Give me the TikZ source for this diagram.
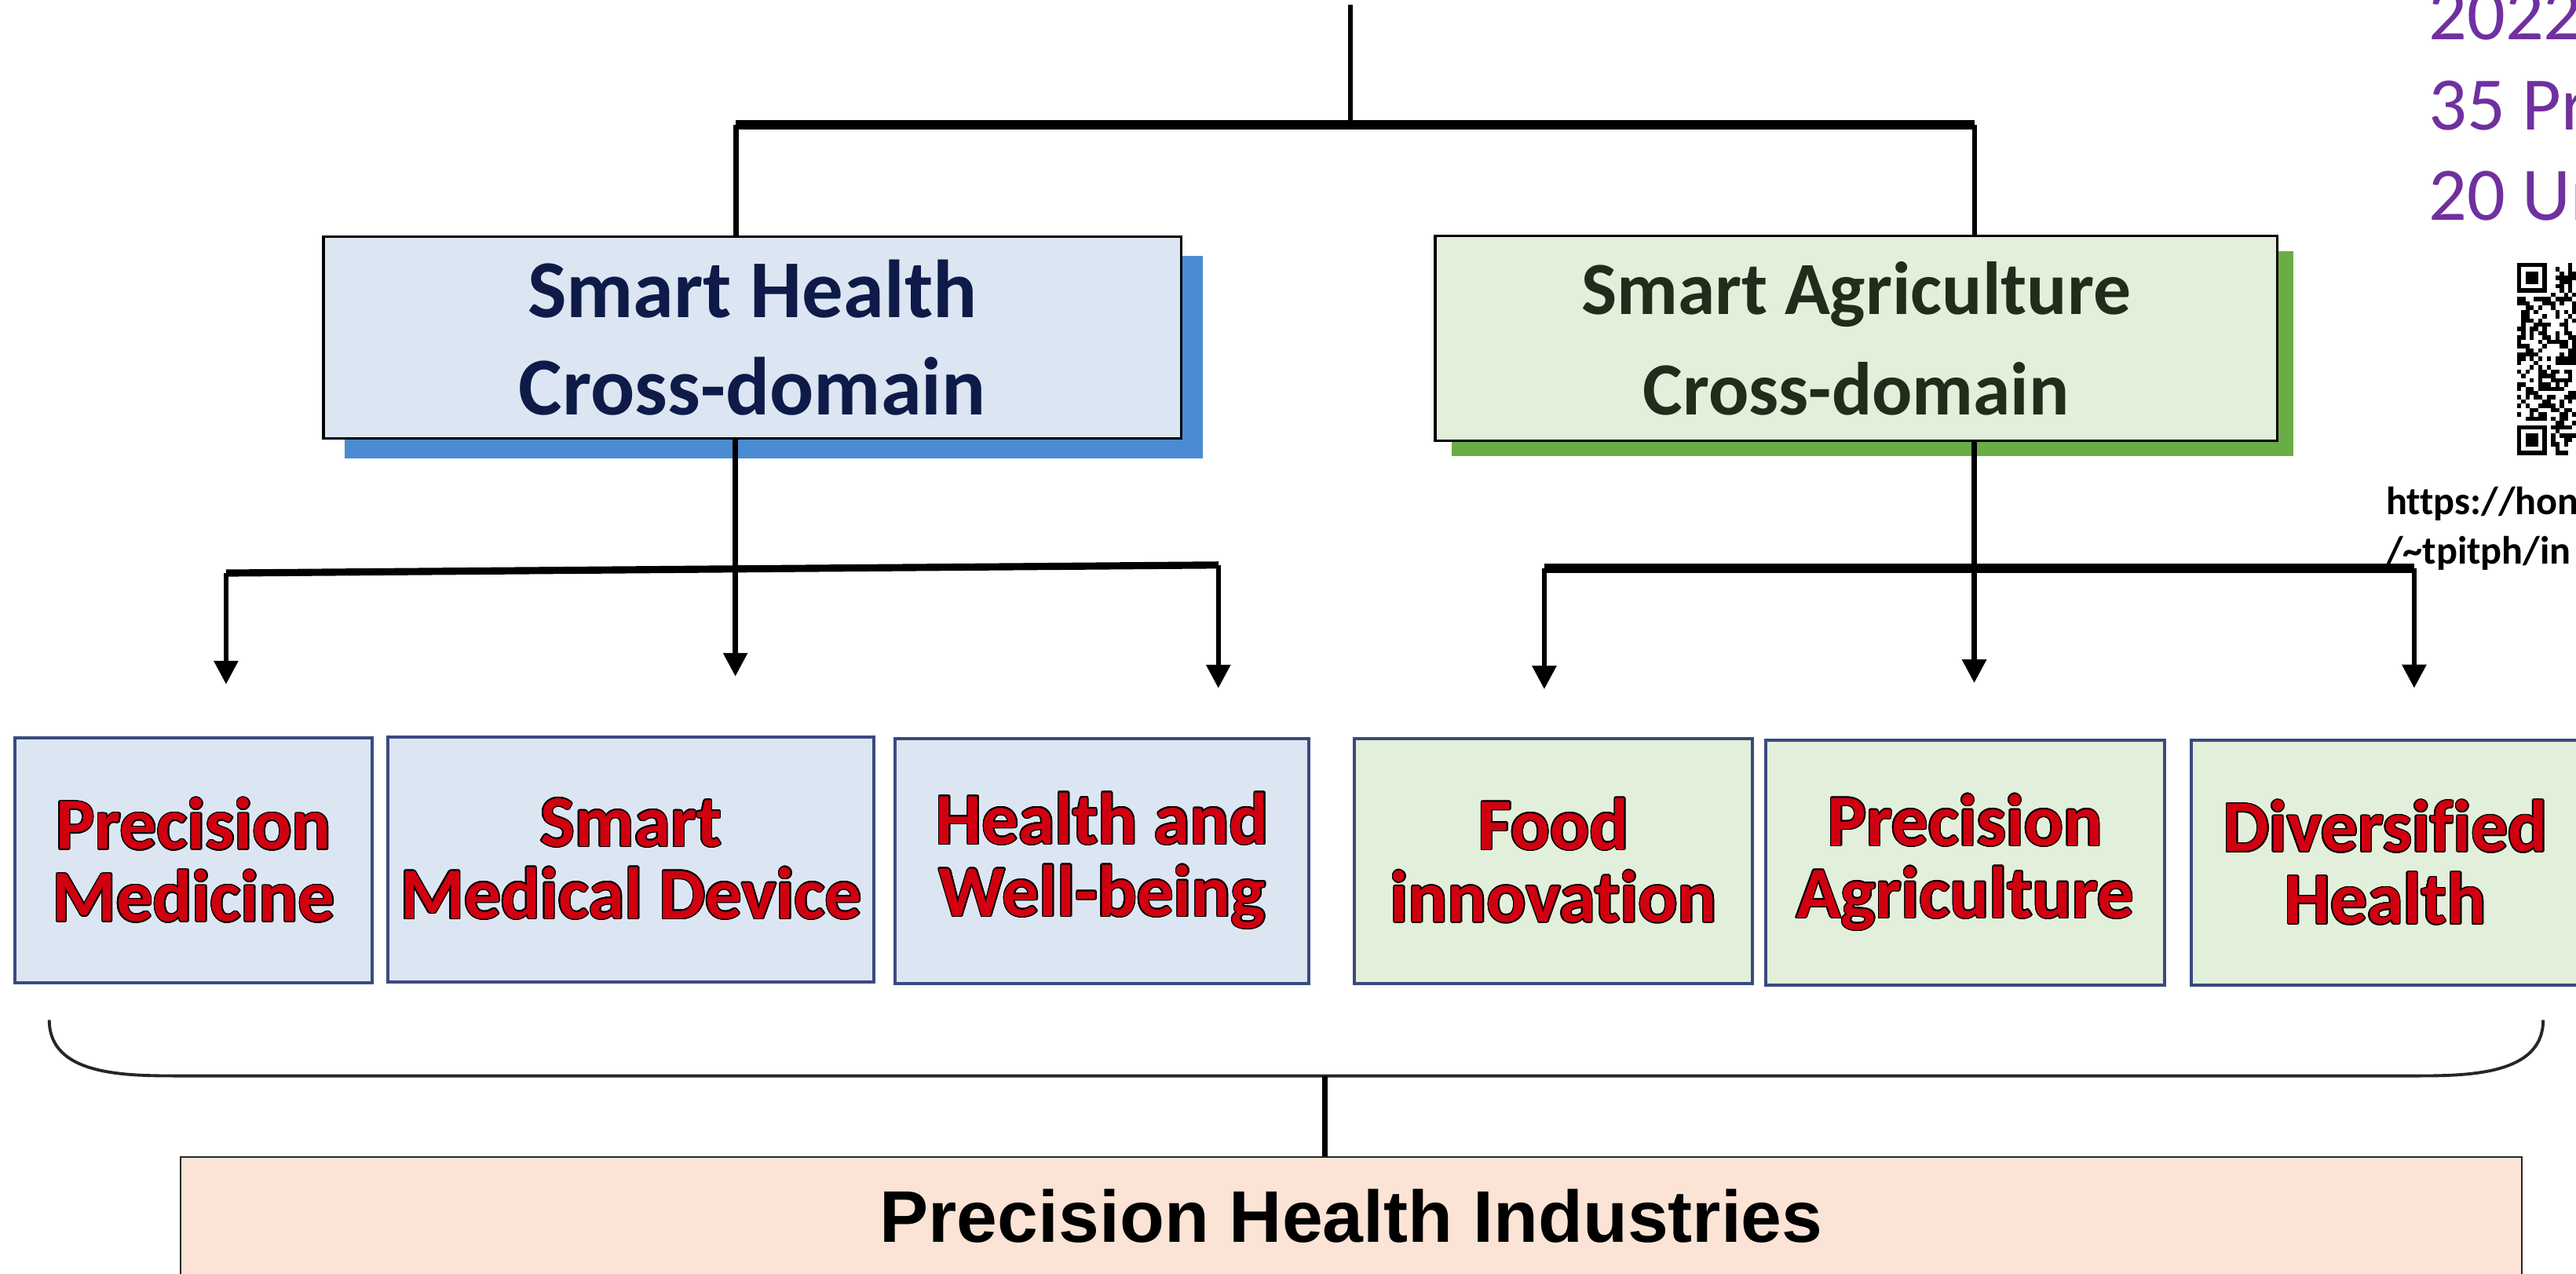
\documentclass[tikz,border=0pt]{standalone}
\usepackage{fontspec}
\setmainfont{Carlito}[Ligatures=NoCommon]
\newfontfamily\arialfont{Liberation Sans}
\usepackage{contour}
\contourlength{0.45pt}
\usetikzlibrary{arrows.meta,shadows}

\definecolor{healthfill}{HTML}{DCE6F2}
\definecolor{healthshadow}{HTML}{4A8BD2}
\definecolor{healthtext}{HTML}{0E1A48}
\definecolor{agrifill}{HTML}{E2EFDA}
\definecolor{agrishadow}{HTML}{6AAD46}
\definecolor{agritext}{HTML}{1F2D1A}
\definecolor{itemborder}{HTML}{3A4A80}
\definecolor{itemtext}{HTML}{D00010}
\definecolor{industryfill}{HTML}{FBE4D6}
\definecolor{notepurple}{HTML}{7030A0}

\newcommand{\itemlabel}[1]{\contour{black}{#1}}

\begin{document}
\begin{tikzpicture}[x=0.020925cm, y=-0.020925cm,
    domainbox/.style={draw=black, line width=1pt, align=center, inner sep=0pt,
      font={\fontsize{29.8}{35.4}\selectfont\bfseries}},
    healthdomain/.style={domainbox, fill=healthfill, text=healthtext,
      drop shadow={shadow xshift=0.27cm, shadow yshift=-0.25cm, fill=healthshadow, opacity=1}},
    agridomain/.style={domainbox, fill=agrifill, text=agritext,
      font={\fontsize{27.2}{36.3}\selectfont\bfseries},
      drop shadow={shadow xshift=0.21cm, shadow yshift=-0.19cm, fill=agrishadow, opacity=1}},
    fieldbox/.style={draw=itemborder, line width=1.1pt, align=center, inner sep=0pt,
      minimum height=3.118cm, text=itemtext, font={\fontsize{26.5}{26.2}\selectfont\bfseries}},
    healthfield/.style={fieldbox, fill=healthfill},
    agrifield/.style={fieldbox, fill=agrifill},
    industry/.style={draw=black!85, line width=0.6pt, fill=industryfill, inner sep=0pt,
      font={\arialfont\bfseries\fontsize{26.5}{30}\selectfont}},
    link/.style={line width=1.8pt},
    bar/.style={line width=3.2pt},
    branch/.style={line width=1.8pt, -{Triangle[length=8.5pt, width=8.5pt]}},
    brace/.style={line width=1.1pt, draw=black!85}
  ]
  \useasboundingbox (0,0) rectangle (1568,775.6);
  \clip (0,0) rectangle (1568,775.6);

  % cross-domain boxes
  \node[healthdomain, minimum width=10.923cm, minimum height=2.574cm] (sh) at (458,205.5)
    {Smart Health\\Cross-domain};
  \node[agridomain, minimum width=10.722cm, minimum height=2.609cm] (sa) at (1129.8,206)
    {Smart Agriculture\\Cross-domain};

  % fields
  \node[healthfield, minimum width=4.543cm] (pm) at (117.85,523.9)
    {\itemlabel{Precision}\\\itemlabel{Medicine}};
  \node[healthfield, minimum width=6.188cm] (smd) at (384.15,523.2)
    {\itemlabel{Smart}\\\itemlabel{Medical Device}};
  \node[healthfield, minimum width=5.269cm] (hw) at (670.9,524.3)
    {\itemlabel{Health and}\\\itemlabel{Well-being}};
  \node[agrifield, minimum width=5.068cm] (fi) at (945.6,524.2)
    {\itemlabel{Food}\\\itemlabel{innovation}};
  \node[agrifield, minimum width=5.072cm] (pa) at (1196.2,525.3)
    {\itemlabel{Precision}\\\itemlabel{Agriculture}};
  \node[agrifield, minimum width=4.942cm] (dh) at (1451.9,525.3)
    {\itemlabel{Diversified}\\\itemlabel{Health}};

  \node[industry, anchor=north, minimum width=29.818cm, text height=1.09cm, text depth=1.55cm]
    (phi) at (822.5,703.8) {Precision Health Industries};

  % side notes
  \node[anchor=north west, align=left, inner sep=0pt, text=notepurple,
    font={\fontsize{27.4}{32.7}\selectfont}] (note) at (1478,-6) {2022\\35 Pr\\20 Un};
  \node[anchor=north west, align=left, inner sep=0pt,
    font={\fontsize{14.3}{17.9}\selectfont\bfseries}] (url) at (1452,296)
    {https://hon\\/\textasciitilde tpitph/in};

  % qr code
  \pgfmathsetseed{42}
  \foreach \i in {0,...,14}{
    \foreach \j in {0,...,44}{
      \pgfmathrandominteger{\bit}{0}{1}
      \pgfmathtruncatemacro{\infinder}{(\i<8)&&((\j<8)||(\j>36))}
      \ifnum\infinder=0 \ifnum\bit=1
        \fill (1532+\i*2.6,160+\j*2.6) rectangle ++(2.6,2.6);
      \fi\fi
    }
  }
  \foreach \fy in {0,38}{
    \fill (1532,160+\fy*2.6) rectangle ++(18.2,18.2);
    \fill[white] (1534.6,162.6+\fy*2.6) rectangle ++(13,13);
    \fill (1537.2,165.2+\fy*2.6) rectangle ++(7.8,7.8);
  }

  % top tree
  \coordinate (top) at (822,3);
  \coordinate (jl) at (448,76);
  \coordinate (jr) at (1202,76);
  \draw[link] (top) -- (top |- jl);
  \draw[bar] (jl) -- (jr);
  \draw[link] (jl) -- (jl |- sh.north);
  \draw[link] (jr) -- (jr |- sa.north);

  % health fan-out
  \coordinate (hl) at (137.6,348.9);
  \coordinate (hm) at (447.6,346.4);
  \coordinate (hr) at (741.6,344);
  \coordinate (pm-tip) at (137.6,416.6);
  \coordinate (smd-tip) at (447.6,411.8);
  \coordinate (hw-tip) at (741.6,419);
  \draw[link] (sh.south -| hm) -- (hm);
  \draw[bar, line width=2.6pt] (hl) -- (hr);
  \draw[branch] (hl) -- (pm-tip);
  \draw[branch] (hm) -- (smd-tip);
  \draw[branch] (hr) -- (hw-tip);

  % agriculture fan-out
  \coordinate (gl) at (940,346);
  \coordinate (gm) at (1201.7,346);
  \coordinate (gr) at (1469.5,346);
  \coordinate (fi-tip) at (940,419.6);
  \coordinate (pa-tip) at (1201.7,415.8);
  \coordinate (dh-tip) at (1469.5,418.9);
  \draw[link] (sa.south -| gm) -- (gm);
  \draw[bar] (gl) -- (gr);
  \draw[branch] (gl) -- (fi-tip);
  \draw[branch] (gm) -- (pa-tip);
  \draw[branch] (gr) -- (dh-tip);

  % brace to industries
  \coordinate (bl) at (30,621);
  \coordinate (br) at (1548,621);
  \coordinate (bm) at (806.5,655);
  \draw[brace] (bl) to[out=-90,in=180] (110,655) -- (1470,655) to[out=0,in=-90] (br);
  \draw[link] (bm) -- (bm |- phi.north);
\end{tikzpicture}
\end{document}
